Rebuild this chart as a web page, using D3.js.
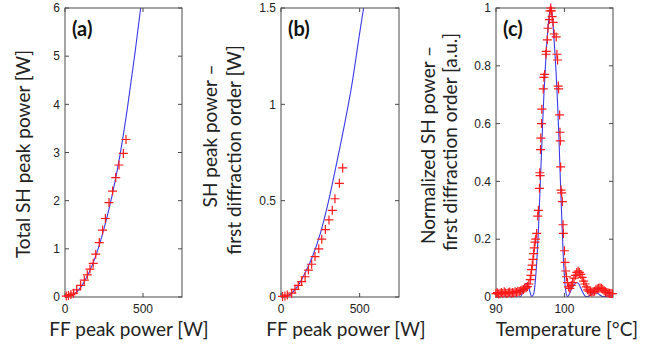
<!DOCTYPE html>
<html>
<head>
<meta charset="utf-8">
<script src="https://cdnjs.cloudflare.com/ajax/libs/d3/7.8.5/d3.min.js"></script>
<style>
  body { margin: 0; background: #fff; }
  .tick-label { font-family: "Liberation Sans", Arial, sans-serif; font-size: 12px; fill: #222; }
  .axis-label { font-family: Lato, "Open Sans", sans-serif; font-size: 19px; fill: #222; }
  .panel-label { font-family: Lato, "Open Sans", sans-serif; font-size: 20px; font-weight: bold; fill: #111; }
</style>
</head>
<body>
<div id="chart"></div>
<script>
const width = 652;
const height = 347;

// (a) total SH peak power vs FF peak power
const aPower = [8, 22, 38, 55, 75, 100, 124, 143, 160, 181, 197, 220, 241, 259, 282, 305, 325, 346, 374, 391];
const aSH = [0.02, 0.03, 0.05, 0.08, 0.15, 0.24, 0.35, 0.46, 0.58, 0.70, 0.89, 1.13, 1.39, 1.63, 1.96, 2.20, 2.48, 2.74, 2.98, 3.27];
const aFitPower = [0, 50, 100, 150, 200, 250, 300, 350, 400, 450, 485];
const aFitSH = [0, 0.04, 0.2, 0.48, 0.88, 1.42, 2.08, 2.9, 3.92, 5.1, 6.0];

// (b) SH peak power, first diffraction order
const bPower = [10, 25, 40, 68, 89, 110, 131, 153, 174, 195, 216, 240, 259, 282, 305, 326, 343, 371, 392];
const bSH = [0.003, 0.005, 0.01, 0.02, 0.04, 0.06, 0.08, 0.105, 0.14, 0.17, 0.21, 0.25, 0.30, 0.35, 0.40, 0.45, 0.51, 0.59, 0.67];
const bFitPower = [0, 50, 100, 150, 200, 250, 300, 350, 400, 450, 500, 525];
const bFitSH = [0, 0.01, 0.05, 0.12, 0.21, 0.33, 0.49, 0.68, 0.88, 1.1, 1.37, 1.5];

// (c) normalized SH power vs temperature
const cTemp = [90.0, 90.2, 90.4, 90.6, 90.8, 91.0, 91.2, 91.4, 91.6, 91.8, 92.0, 92.2, 92.4, 92.6, 92.8,
  93.0, 93.2, 93.4, 93.6, 93.8, 94.0, 94.2, 94.4, 94.6, 94.8, 95.0, 95.1, 95.2, 95.3, 95.4, 95.5, 95.6,
  95.7, 95.8, 95.95, 96.1, 96.2, 96.35, 96.4, 96.45, 96.5, 96.55, 96.65, 96.7, 96.9, 97.0, 97.1, 97.3,
  97.35, 97.5, 97.6, 97.8, 97.9, 98.0, 98.1, 98.2, 98.35, 98.5, 98.8, 98.9, 99.0, 99.1, 99.15, 99.3,
  99.35, 99.4, 99.45, 99.5, 99.6, 99.7, 99.8, 99.85, 100.0, 100.1, 100.2, 100.3, 100.45, 100.6, 100.8,
  101.0, 101.2, 101.4, 101.6, 101.8, 102.0, 102.2, 102.4, 102.6, 102.8, 103.0, 103.2, 103.4, 103.6,
  103.8, 104.0, 104.2, 104.4, 104.6, 104.8, 105.0, 105.2, 105.4, 105.6, 105.8, 106.0, 106.2, 106.4,
  106.6, 106.8, 107.0];
const cSH = [0.012, 0.015, 0.010, 0.013, 0.016, 0.012, 0.018, 0.014, 0.012, 0.015, 0.017, 0.013, 0.016, 0.014, 0.018,
  0.016, 0.020, 0.019, 0.022, 0.024, 0.026, 0.030, 0.032, 0.036, 0.045, 0.060, 0.075, 0.095, 0.11, 0.13, 0.15, 0.17,
  0.19, 0.20, 0.22, 0.28, 0.30, 0.376, 0.43, 0.42, 0.51, 0.55, 0.60, 0.65, 0.72, 0.76, 0.77, 0.84,
  0.85, 0.89, 0.93, 0.96, 0.99, 1.0, 0.99, 0.97, 0.95, 0.91, 0.90, 0.84, 0.82, 0.73, 0.72, 0.63,
  0.57, 0.54, 0.45, 0.37, 0.36, 0.33, 0.25, 0.22, 0.16, 0.12, 0.09, 0.07, 0.05, 0.035, 0.03,
  0.04, 0.05, 0.065, 0.075, 0.085, 0.09, 0.085, 0.078, 0.068, 0.055, 0.045, 0.035, 0.025, 0.020,
  0.018, 0.017, 0.018, 0.020, 0.025, 0.028, 0.030, 0.031, 0.030, 0.027, 0.022, 0.018, 0.016, 0.014,
  0.013, 0.012, 0.012];
const cFitTemp = [90, 93.5, 93.8, 94.1, 94.4, 94.7, 95.0, 95.2, 95.5, 95.8, 96.0, 96.2, 96.4, 96.6, 96.8,
  97.0, 97.2, 97.4, 97.6, 97.8, 98.0, 98.2, 98.4, 98.6, 98.8, 99.0, 99.2, 99.4, 99.6, 99.8, 100.0,
  100.2, 100.4, 100.6, 100.9, 101.2, 101.5, 101.8, 102.1, 102.4, 102.7, 103.0, 103.3, 103.7, 104.1,
  104.5, 104.9, 105.3, 105.7, 106.2, 107];
const cFitSH = [0, 0, 0.01, 0.035, 0.047, 0.04, 0.015, 0.002, 0.01, 0.07, 0.14, 0.23, 0.35, 0.47, 0.59,
  0.70, 0.79, 0.87, 0.93, 0.98, 1.0, 0.98, 0.92, 0.85, 0.77, 0.67, 0.55, 0.41, 0.28, 0.16, 0.07,
  0.02, 0.002, 0.005, 0.02, 0.035, 0.045, 0.05, 0.045, 0.03, 0.015, 0.004, 0.001, 0.005, 0.012,
  0.015, 0.012, 0.005, 0.001, 0.003, 0.005];

const panels = [
  { id: "a", left: 65, right: 182, xDomain: [0, 750], yDomain: [0, 6],
    xTicks: [0, 500], yTicks: [0, 1, 2, 3, 4, 5, 6], yFmt: d3.format("d"), xFmt: d3.format("d"),
    xs: aPower, ys: aSH, fitX: aFitPower, fitY: aFitSH,
    xLabel: "FF peak power [W]", xLabelX: 129,
    yLabels: [{ text: "Total SH peak power [W]", x: 30, y: 154 }] },
  { id: "b", left: 281, right: 399, xDomain: [0, 750], yDomain: [0, 1.5],
    xTicks: [0, 500], yTicks: [0, 0.5, 1, 1.5], yFmt: d => String(d), xFmt: d3.format("d"),
    xs: bPower, ys: bSH, fitX: bFitPower, fitY: bFitSH,
    xLabel: "FF peak power [W]", xLabelX: 346,
    yLabels: [{ text: "SH peak power \u2013", x: 217, y: 136 },
              { text: "first diffraction order [W]", x: 241, y: 150 }] },
  { id: "c", left: 496, right: 613, xDomain: [90, 107.1], yDomain: [0, 1],
    xTicks: [90, 100], yTicks: [0, 0.2, 0.4, 0.6, 0.8, 1], yFmt: d => String(d), xFmt: d3.format("d"),
    xs: cTemp, ys: cSH, fitX: cFitTemp, fitY: cFitSH,
    xLabel: "Temperature [\u00B0C]", xLabelX: 567,
    yLabels: [{ text: "Normalized SH power \u2013", x: 435, y: 145 },
              { text: "first diffraction order [a.u.]", x: 457, y: 142 }] }
];

const plotTop = 8;
const plotBottom = 297;
const frameColor = "#4a4a4a";

const svg = d3.select("#chart")
  .append("svg")
  .attr("width", width)
  .attr("height", height);

svg.append("rect").attr("width", width).attr("height", height).attr("fill", "#fff");

panels.forEach(p => {
  const x = d3.scaleLinear().domain(p.xDomain).range([p.left, p.right]);
  const y = d3.scaleLinear().domain(p.yDomain).range([plotBottom, plotTop]);
  const g = svg.append("g");

  g.append("clipPath").attr("id", "clip-" + p.id)
    .append("rect")
    .attr("x", p.left).attr("y", plotTop)
    .attr("width", p.right - p.left).attr("height", plotBottom - plotTop);

  // fitted curve
  const line = d3.line().x(d => x(d[0])).y(d => y(d[1])).curve(d3.curveMonotoneX);
  g.append("path")
    .datum(d3.zip(p.fitX, p.fitY))
    .attr("clip-path", "url(#clip-" + p.id + ")")
    .attr("d", line)
    .attr("fill", "none")
    .attr("stroke", "#3a3ae8")
    .attr("stroke-width", 1.1);

  // frame
  g.append("rect")
    .attr("x", p.left).attr("y", plotTop)
    .attr("width", p.right - p.left).attr("height", plotBottom - plotTop)
    .attr("fill", "none").attr("stroke", frameColor).attr("stroke-width", 1);

  // ticks, inward on all four sides
  const tl = 4;
  p.yTicks.forEach(t => {
    g.append("line").attr("x1", p.left).attr("x2", p.left + tl).attr("y1", y(t)).attr("y2", y(t)).attr("stroke", frameColor);
    g.append("line").attr("x1", p.right).attr("x2", p.right - tl).attr("y1", y(t)).attr("y2", y(t)).attr("stroke", frameColor);
    g.append("text").attr("class", "tick-label")
      .attr("x", p.left - 5).attr("y", y(t)).attr("dy", "0.35em")
      .attr("text-anchor", "end").text(p.yFmt(t));
  });
  p.xTicks.forEach(t => {
    g.append("line").attr("x1", x(t)).attr("x2", x(t)).attr("y1", plotBottom).attr("y2", plotBottom - tl).attr("stroke", frameColor);
    g.append("line").attr("x1", x(t)).attr("x2", x(t)).attr("y1", plotTop).attr("y2", plotTop + tl).attr("stroke", frameColor);
    g.append("text").attr("class", "tick-label")
      .attr("x", x(t)).attr("y", plotBottom + 16)
      .attr("text-anchor", "middle").text(p.xFmt(t));
  });

  // measured points as "+" markers
  const s = 4.5;
  g.selectAll(".pt")
    .data(d3.zip(p.xs, p.ys))
    .enter().append("path")
    .attr("class", "pt")
    .attr("d", d => {
      const cx = x(d[0]), cy = y(d[1]);
      return `M${cx - s},${cy}H${cx + s}M${cx},${cy - s}V${cy + s}`;
    })
    .attr("stroke", "#ff1a1a")
    .attr("stroke-width", 1.2)
    .attr("fill", "none");

  // labels
  g.append("text").attr("class", "panel-label")
    .attr("x", p.left + 7).attr("y", 36).text("(" + p.id + ")");
  g.append("text").attr("class", "axis-label")
    .attr("x", p.xLabelX).attr("y", 336)
    .attr("text-anchor", "middle").text(p.xLabel);
  p.yLabels.forEach(l => {
    g.append("text").attr("class", "axis-label")
      .attr("transform", `translate(${l.x},${l.y}) rotate(-90)`)
      .attr("text-anchor", "middle").text(l.text);
  });
});
</script>
</body>
</html>
